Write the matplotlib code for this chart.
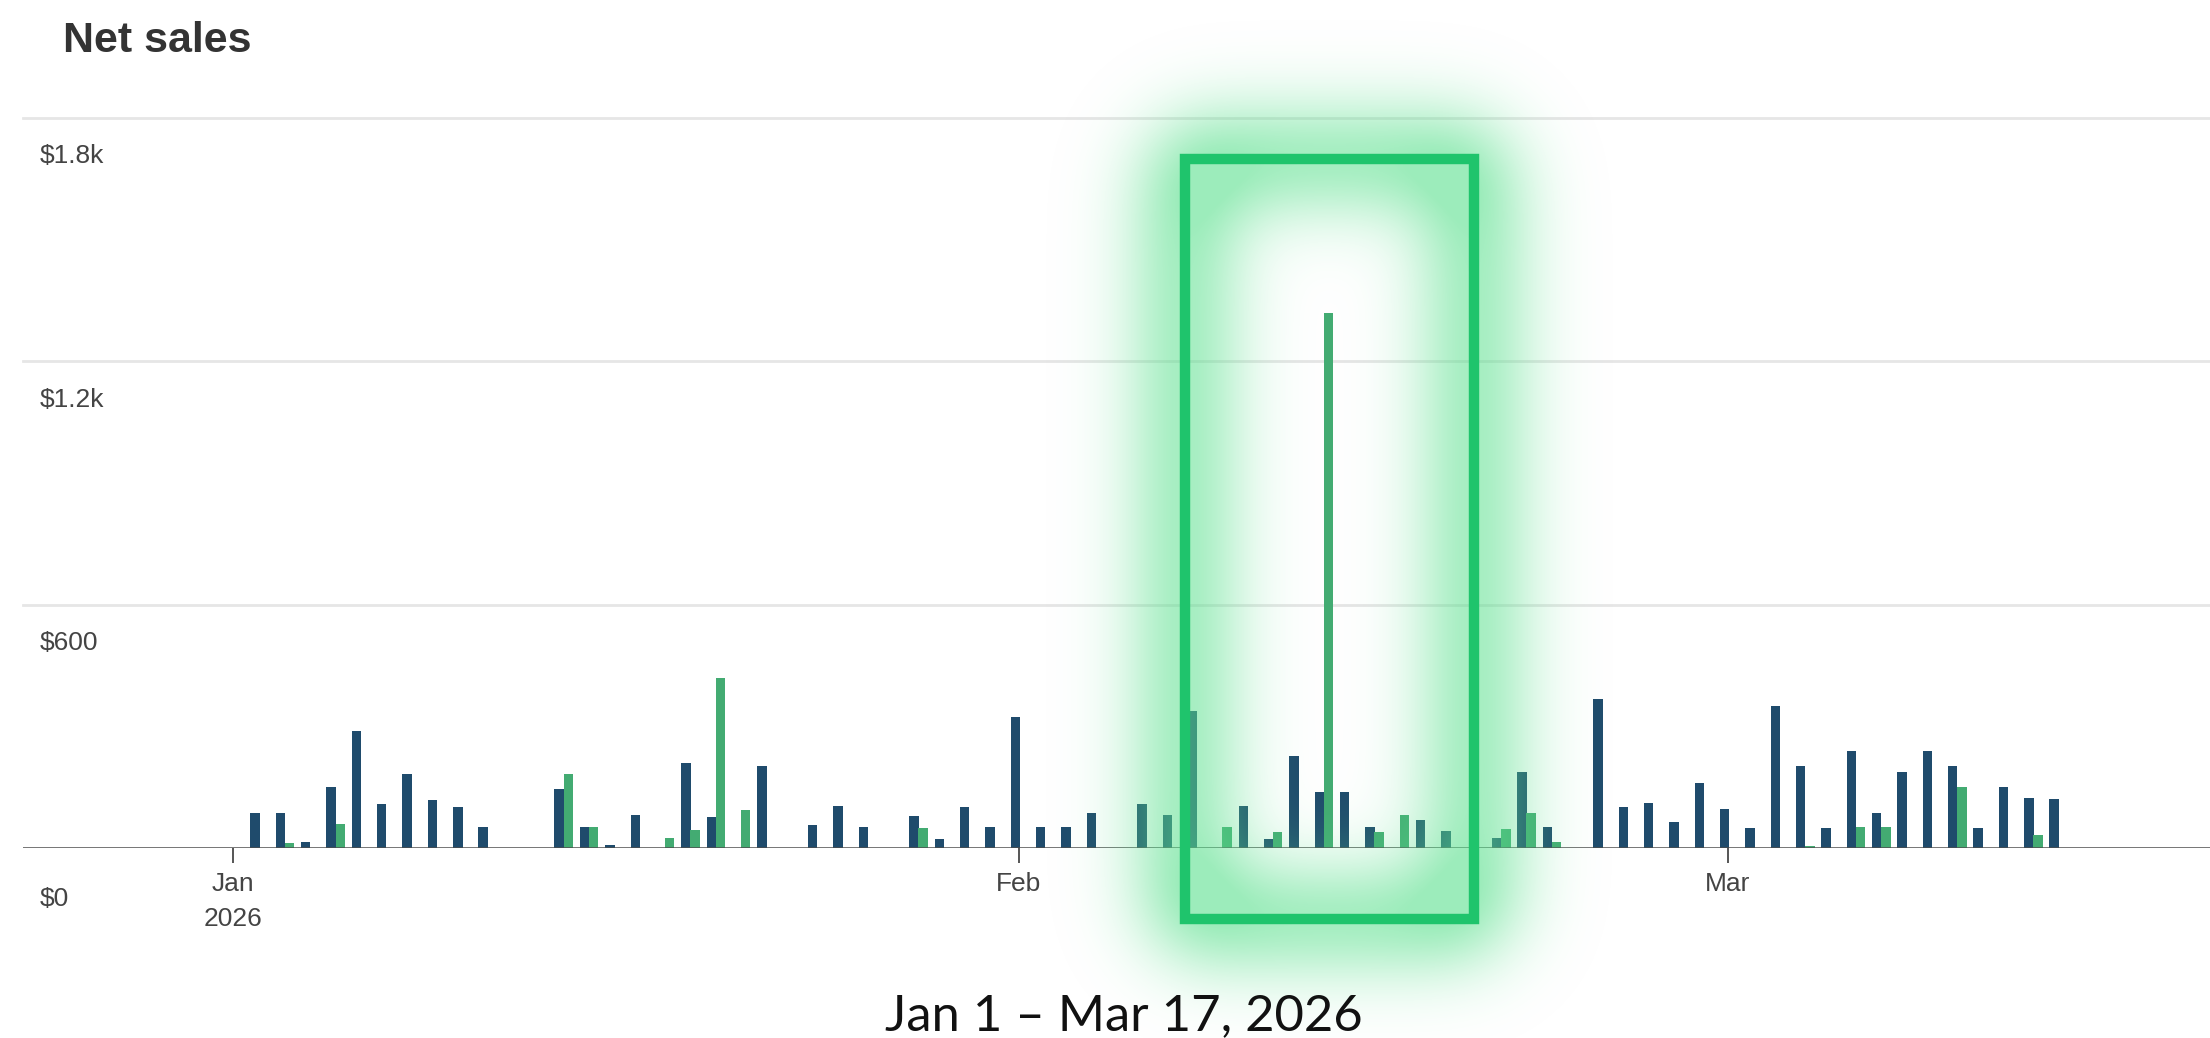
import numpy as np
import pandas as pd
import matplotlib

matplotlib.use("Agg")
import matplotlib.pyplot as plt
from matplotlib.patches import Rectangle

# =============================================================================
# Data
# =============================================================================
start_date = "2026-01-01"

blue_dates = [
    "2026-01-02", "2026-01-03", "2026-01-04", "2026-01-05", "2026-01-06",
    "2026-01-07", "2026-01-08", "2026-01-09", "2026-01-10", "2026-01-11",
    "2026-01-14", "2026-01-15", "2026-01-16", "2026-01-17", "2026-01-19",
    "2026-01-20", "2026-01-22", "2026-01-24", "2026-01-25", "2026-01-26",
    "2026-01-28", "2026-01-29", "2026-01-30", "2026-01-31", "2026-02-01",
    "2026-02-02", "2026-02-03", "2026-02-04", "2026-02-06", "2026-02-07",
    "2026-02-08", "2026-02-10", "2026-02-11", "2026-02-12", "2026-02-13",
    "2026-02-14", "2026-02-15", "2026-02-17", "2026-02-18", "2026-02-20",
    "2026-02-21", "2026-02-22", "2026-02-24", "2026-02-25", "2026-02-26",
    "2026-02-27", "2026-02-28", "2026-03-01", "2026-03-02", "2026-03-03",
    "2026-03-04", "2026-03-05", "2026-03-06", "2026-03-07", "2026-03-08",
    "2026-03-09", "2026-03-10", "2026-03-11", "2026-03-12", "2026-03-13",
    "2026-03-14",
]
blue_sales = [
    86, 86, 14, 151, 289,
    109, 183, 118, 102, 53,
    145, 53, 7, 81, 209,
    76, 203, 57, 104, 51,
    79, 21, 102, 51, 324,
    51, 51, 87, 109, 81,
    337, 104, 22, 226, 137,
    139, 52, 69, 42, 25,
    188, 53, 368, 100, 110,
    65, 161, 96, 49, 351,
    203, 49, 238, 86, 187,
    238, 203, 49, 151, 123,
    122,
]

green_dates = [
    "2026-01-03", "2026-01-05", "2026-01-14", "2026-01-15", "2026-01-18",
    "2026-01-19", "2026-01-20", "2026-01-21", "2026-01-28", "2026-02-09",
    "2026-02-11", "2026-02-13", "2026-02-15", "2026-02-16", "2026-02-20",
    "2026-02-21", "2026-02-22", "2026-03-04", "2026-03-06", "2026-03-07",
    "2026-03-10", "2026-03-13",
]
green_sales = [
    12, 59, 183, 53, 24,
    44, 419, 94, 49, 52,
    40, 1320, 40, 81, 46,
    86, 14, 5, 51, 51,
    151, 31,
]

y_ticks = [0, 600, 1200, 1800]
y_labels = ["$0", "$600", "$1.2k", "$1.8k"]
month_ticks = ["2026-01-01", "2026-02-01", "2026-03-01"]
month_labels = ["Jan\n2026", "Feb", "Mar"]

# highlighted window (days from Jan 1, sales)
highlight_x = (37.57, 48.97)
highlight_y = (-175, 1699)

# =============================================================================
# Colours / sizes
# =============================================================================
W, H = 2210, 1038
blue_color = "#1f4b6c"
green_color = "#43ab72"
grid_color = "#e6e6e6"
label_color = "#444444"
glow_rgb = (0.36, 0.88, 0.56)
box_color = "#1fc46c"

t0 = pd.Timestamp(start_date)
blue_x = np.array([(pd.Timestamp(d) - t0).days for d in blue_dates], dtype=float)
green_x = np.array([(pd.Timestamp(d) - t0).days for d in green_dates], dtype=float)
tick_x = [(pd.Timestamp(d) - t0).days for d in month_ticks]

fig = plt.figure(figsize=(W / 100, H / 100), dpi=100)
fig.patch.set_facecolor("white")
ax = fig.add_axes([23 / W, (H - 848) / H, (W - 23) / W, 730 / H])

bar_w = 0.37
ax.bar(blue_x - 0.13, blue_sales, width=bar_w, color=blue_color, zorder=3)
ax.bar(green_x + 0.23, green_sales, width=bar_w, color=green_color, zorder=3)

ax.set_xlim(-8.29, 78.02)
ax.set_ylim(0, 1800)

# grid + baseline
for v in y_ticks[1:]:
    ax.axhline(v, color=grid_color, lw=2, zorder=1, clip_on=False)
ax.axhline(0, color="#4d4d4d", lw=1.8, zorder=4)

for s in ["top", "right", "left", "bottom"]:
    ax.spines[s].set_visible(False)
ax.set_yticks([])

ax.set_xticks(tick_x)
ax.set_xticklabels(month_labels)
ax.tick_params(axis="x", length=11, width=1.4, color="#555555", pad=6,
               labelsize=19, labelcolor=label_color)
for lbl in ax.get_xticklabels():
    lbl.set_linespacing(1.6)
    lbl.set_family("Liberation Sans")

# y labels sit under their gridline, at the left edge
for v, lab in zip(y_ticks, y_labels):
    off = -36.5 if v == 0 else -27.5
    ax.annotate(lab, xy=(40, v), xycoords=("figure pixels", "data"),
                xytext=(0, off), textcoords="offset points",
                ha="left", va="center", fontsize=19, color=label_color,
                family="Liberation Sans")

# =============================================================================
# Glowing highlight box (blurred outline)
# =============================================================================
(x0, y0), (x1, y1) = ax.transData.transform(
    [(highlight_x[0], highlight_y[0]), (highlight_x[1], highlight_y[1])]
)
yy, xx = np.mgrid[0:H, 0:W] + 0.5
half = 6
outer = (xx > x0 - half) & (xx < x1 + half) & (yy > y0 - half) & (yy < y1 + half)
inner = (xx > x0 + half) & (xx < x1 - half) & (yy > y0 + half) & (yy < y1 - half)
ring = (outer & ~inner).astype(float)

sigma = 44.0
pad = 220
big = np.pad(ring, pad)
ky = np.fft.fftfreq(big.shape[0])[:, None]
kx = np.fft.rfftfreq(big.shape[1])[None, :]
kernel = np.exp(-2 * (np.pi * sigma) ** 2 * (kx ** 2 + ky ** 2))
blur = np.fft.irfft2(np.fft.rfft2(big) * kernel, s=big.shape)[pad:-pad, pad:-pad]
peak = 2 * half / (np.sqrt(2 * np.pi) * sigma)

glow = np.zeros((H, W, 4))
glow[..., 0], glow[..., 1], glow[..., 2] = glow_rgb
glow[..., 3] = np.clip(0.55 * blur / peak, 0, 0.6)

overlay = fig.add_axes([0, 0, 1, 1], zorder=5)
overlay.imshow(glow, origin="lower", extent=(0, W, 0, H), interpolation="bilinear")
overlay.add_patch(Rectangle((x0, y0), x1 - x0, y1 - y0, fill=False,
                            ec=box_color, lw=7.5))
overlay.set_xlim(0, W)
overlay.set_ylim(0, H)
overlay.axis("off")

# =============================================================================
# Titles
# =============================================================================
fig.text(63 / W, 1 - 52 / H, "Net sales", fontsize=31, fontweight="bold",
         color="#333333", va="baseline", family="Liberation Sans", zorder=10)
fig.text(1124 / W, 1 - 1030 / H, "Jan 1 \u2013 Mar 17, 2026", fontsize=36.5,
         color="#111111", ha="center", va="baseline", family="Lato", zorder=10)

fig.savefig("out.png", dpi=100, facecolor=fig.get_facecolor())
